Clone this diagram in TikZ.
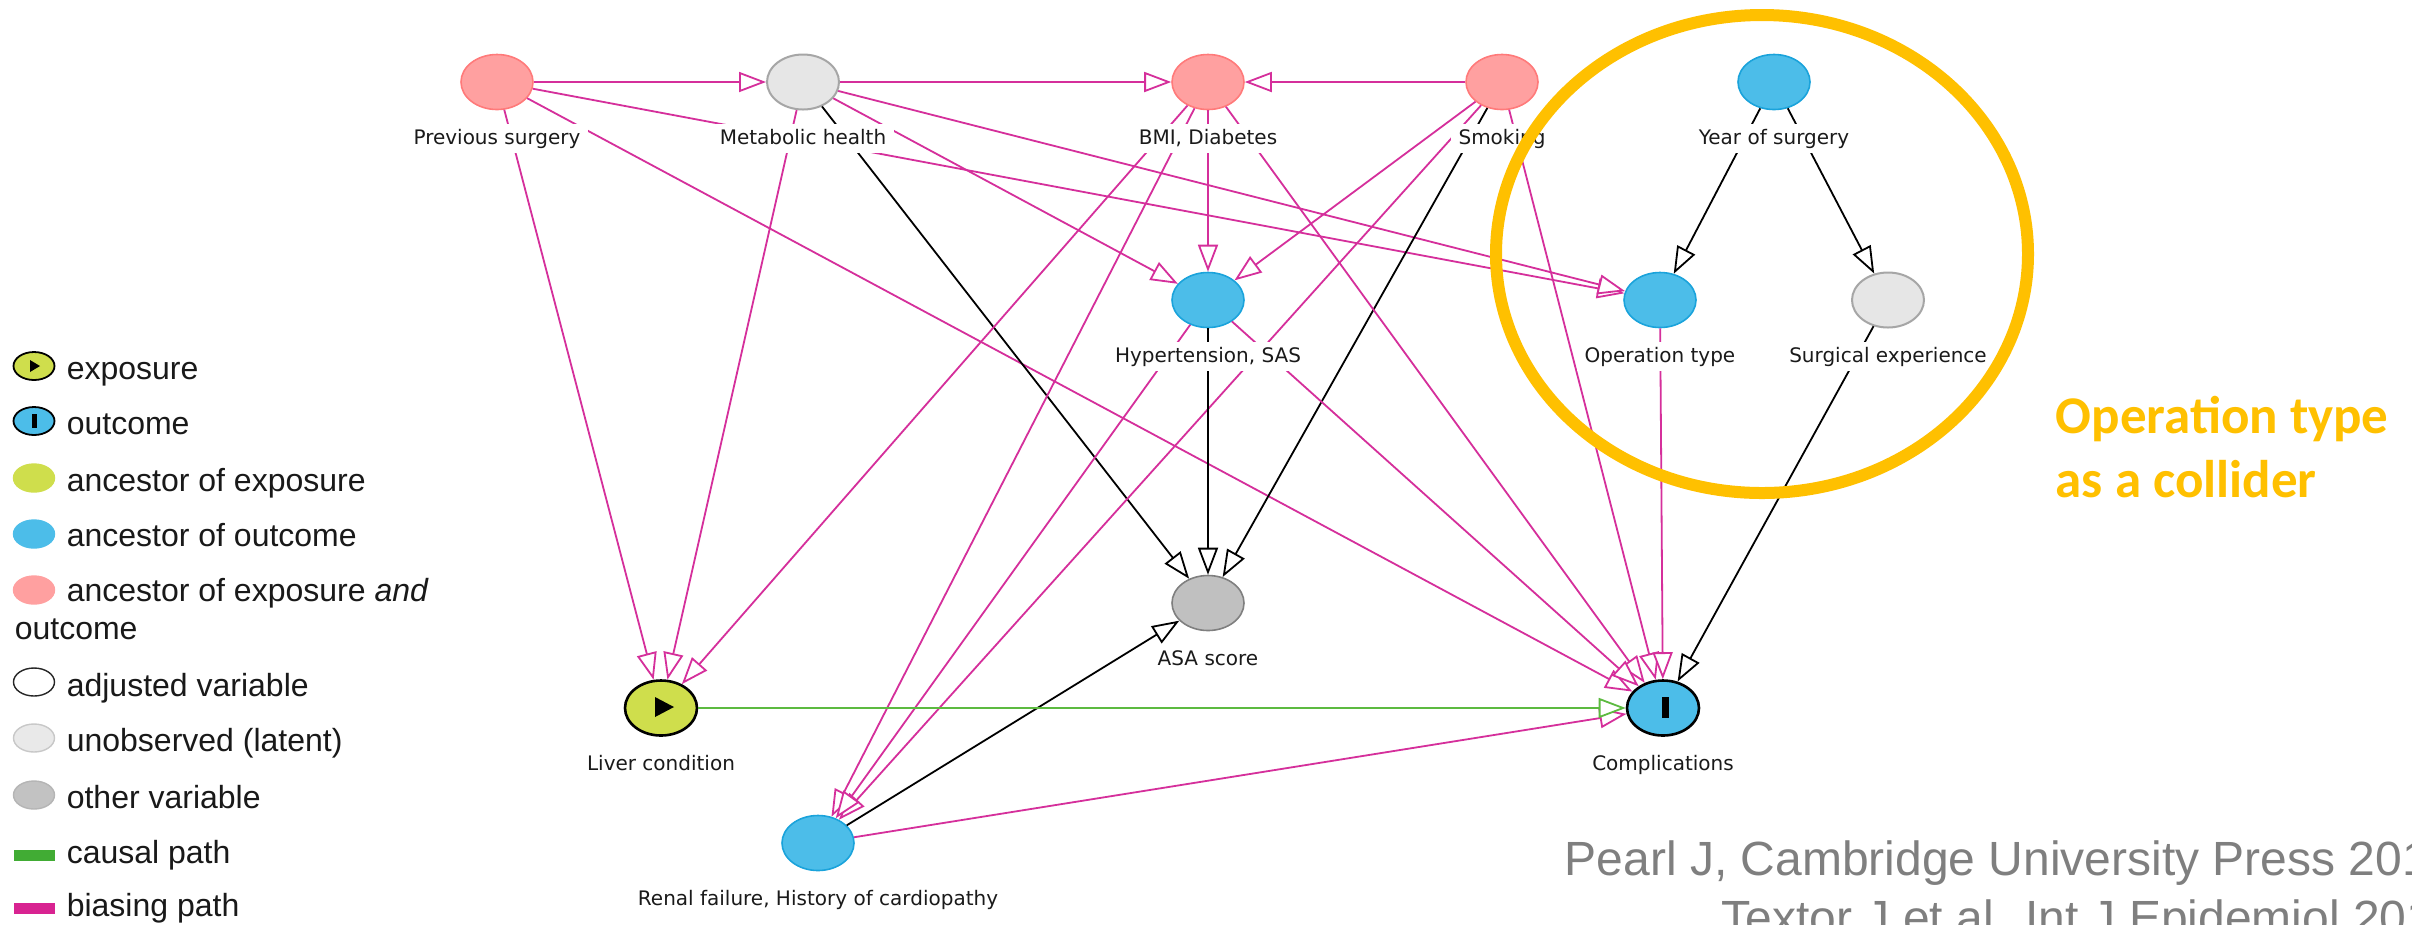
\documentclass[tikz,border=0pt]{standalone}
\usepackage{fontspec}
\setmainfont{Liberation Sans}
\newfontfamily\dagfont{DejaVu Sans}
\newfontfamily\calfont{Carlito}
\usetikzlibrary{shapes.geometric,arrows.meta}
\definecolor{gold}{HTML}{FFC000}
\definecolor{pinkfill}{HTML}{FFA0A0}
\definecolor{pinkdraw}{HTML}{FF7A7A}
\definecolor{bluefill}{HTML}{4CBDE9}
\definecolor{bluedraw}{HTML}{1AA3DB}
\definecolor{latfill}{HTML}{E6E6E6}
\definecolor{latdraw}{HTML}{A6A6A6}
\definecolor{othfill}{HTML}{C0C0C0}
\definecolor{othdraw}{HTML}{7F7F7F}
\definecolor{expfill}{HTML}{CFDE4C}
\definecolor{epink}{HTML}{D52F9B}
\definecolor{egreen}{HTML}{5CBA40}
\definecolor{lcausal}{HTML}{41AC34}
\definecolor{lbias}{HTML}{D82391}
\definecolor{citegray}{HTML}{7F7F7F}
\definecolor{labtext}{HTML}{1A1A1A}
\definecolor{leglat}{HTML}{E9E9E9}
\definecolor{leglatd}{HTML}{C8C8C8}
\definecolor{legoth}{HTML}{C2C2C2}
\definecolor{legothd}{HTML}{B5B5B5}
\begin{document}
\begin{tikzpicture}[x=0.25pt,y=-0.25pt,
  var/.style={ellipse, minimum width=18pt, minimum height=13.75pt, inner sep=0pt, line width=0.4pt},
  anctwo/.style={var, fill=pinkfill, draw=pinkdraw},
  ancout/.style={var, fill=bluefill, draw=bluedraw},
  latent/.style={var, fill=latfill, draw=latdraw, line width=0.5pt},
  othervar/.style={var, fill=othfill, draw=othdraw},
  expo/.style={var, fill=expfill, draw=black, line width=0.65pt},
  outc/.style={var, fill=bluefill, draw=black, line width=0.65pt},
  lab/.style={font=\dagfont\fontsize{5}{6}\selectfont, text=labtext, fill=white, inner xsep=2pt, inner ysep=1.2pt, text height=3.7pt, text depth=1.1pt, anchor=base},
  tipstyle/.style={-{Triangle[length=6.75pt,width=5pt,fill=white]}},
  bias/.style={draw=epink, line width=0.45pt, tipstyle},
  blk/.style={draw=black, line width=0.45pt, tipstyle},
  causal/.style={draw=egreen, line width=0.45pt, tipstyle},
  legicon/.style={ellipse, minimum width=10.25pt, minimum height=7pt, inner sep=0pt, line width=0.35pt},
  legbar/.style={rectangle, minimum width=10.25pt, minimum height=2.75pt, inner sep=0pt},
  legtext/.style={anchor=base west, inner sep=0pt, font=\fontsize{8}{9.6}\selectfont, text=black!90},
  colltext/.style={anchor=base west, inner sep=0pt, font=\calfont\bfseries\fontsize{13.25}{16}\selectfont, text=gold},
  citetext/.style={anchor=base west, inner sep=0pt, font=\fontsize{12}{14}\selectfont, text=citegray}
]
\useasboundingbox (0,0) rectangle (2412,924);
\clip (0,0) rectangle (2412,924);
\fill[white] (0,0) rectangle (2412,924);

% ---- variables ----
\node[anctwo] (PS) at (497,82) {};
\node[latent] (MH) at (803,82) {};
\node[anctwo] (BMI) at (1208,82) {};
\node[anctwo] (SM) at (1502,82) {};
\node[ancout] (YS) at (1774,82) {};
\node[ancout] (HT) at (1208,300) {};
\node[ancout] (OT) at (1660,300) {};
\node[latent] (SE) at (1888,300) {};
\node[othervar] (ASA) at (1208,603) {};
\node[expo] (LC) at (661,708) {};
\node[outc] (CO) at (1663,708) {};
\node[ancout] (RF) at (818,843) {};
\fill (655,697) -- (674,707) -- (655,717) -- cycle;
\fill (1662,697) rectangle (1669,718);

% ---- edges ----
\draw[bias] (PS) -- (MH);
\draw[bias] (PS) -- (LC);
\draw[bias] (PS) -- (CO);
\draw[bias] (PS) -- (OT);
\draw[bias] (MH) -- (BMI);
\draw[bias] (MH) -- (HT);
\draw[bias] (MH) -- (OT);
\draw[blk]  (MH) -- (ASA);
\draw[bias] (MH) -- (LC);
\draw[bias] (SM) -- (BMI);
\draw[bias] (SM) -- (HT);
\draw[bias] (SM) -- (RF);
\draw[blk]  (SM) -- (ASA);
\draw[bias] (SM) -- (CO);
\draw[bias] (BMI) -- (HT);
\draw[bias] (BMI) -- (LC);
\draw[bias] (BMI) -- (RF);
\draw[bias] (BMI) -- (CO);
\draw[blk]  (HT) -- (ASA);
\draw[bias] (HT) -- (RF);
\draw[bias] (HT) -- (CO);
\draw[blk]  (YS) -- (OT);
\draw[blk]  (YS) -- (SE);
\draw[bias] (OT) -- (CO);
\draw[blk]  (SE) -- (CO);
\draw[blk]  (RF) -- (ASA);
\draw[bias] (RF) -- (CO);
\draw[causal] (LC) -- (CO);

% ---- labels ----
\node[lab] (PSl) at (497,144) {Previous surgery};
\node[lab] (MHl) at (803,144) {Metabolic health};
\node[lab] (BMIl) at (1208,144) {BMI, Diabetes};
\node[lab] (SMl) at (1502,144) {Smoking};
\node[lab] (YSl) at (1774,144) {Year of surgery};
\node[lab] (HTl) at (1208,362) {Hypertension, SAS};
\node[lab] (OTl) at (1660,362) {Operation type};
\node[lab] (SEl) at (1888,362) {Surgical experience};
\node[lab] (ASAl) at (1208,665) {ASA score};
\node[lab] (LCl) at (661,770) {Liver condition};
\node[lab] (COl) at (1663,770) {Complications};
\node[lab] (RFl) at (818,905) {Renal failure, History of cardiopathy};

% ---- collider highlight ----
\node[draw=gold, line width=3pt, ellipse, minimum width=133pt, minimum height=119.5pt, inner sep=0pt] (coll) at (1762,254) {};
\node[colltext] (ct1) at (2055,433) {Operation type};
\node[colltext] (ct2) at (2055,497) {as a collider};

% ---- citation ----
\node[citetext] (cit1) at (1564,875) {Pearl J, Cambridge University Press 201};
\node[citetext] (cit2) at (1721,934) {Textor J et al. Int J Epidemiol 201};

% ---- legend ----
\node[legicon, fill=expfill, draw=black, line width=0.45pt] (Lexp) at (34,366) {};
\fill (30,360) -- (40,366) -- (30,372) -- cycle;
\node[legtext] (Texp) at (66,379) {exposure};
\node[legicon, fill=bluefill, draw=black, line width=0.45pt] (Lout) at (34,421) {};
\fill (32,414) rectangle (37,428);
\node[legtext] (Tout) at (66,434) {outcome};
\node[legicon, fill=expfill, draw=expfill] (Lae) at (34,478) {};
\node[legtext] (Tae) at (66,491) {ancestor of exposure};
\node[legicon, fill=bluefill, draw=bluefill] (Lao) at (34,534) {};
\node[legtext] (Tao) at (66,546) {ancestor of outcome};
\node[legicon, fill=pinkfill, draw=pinkfill] (Lab) at (34,590) {};
\node[legtext] (Tab) at (66,601) {ancestor of exposure \textit{and}};
\node[legtext] (Tab2) at (14,639) {outcome};
\node[legicon, fill=white, draw=black!85] (Ladj) at (34,682) {};
\node[legtext] (Tadj) at (66,696) {adjusted variable};
\node[legicon, fill=leglat, draw=leglatd] (Llat) at (34,738) {};
\node[legtext] (Tlat) at (66,751) {unobserved (latent)};
\node[legicon, fill=legoth, draw=legothd] (Loth) at (34,795) {};
\node[legtext] (Toth) at (66,808) {other variable};
\node[legbar, fill=lcausal] (Lcau) at (34,855) {};
\node[legtext] (Tcau) at (66,863) {causal path};
\node[legbar, fill=lbias] (Lbia) at (34,908) {};
\node[legtext] (Tbia) at (66,916) {biasing path};
\end{tikzpicture}
\end{document}
